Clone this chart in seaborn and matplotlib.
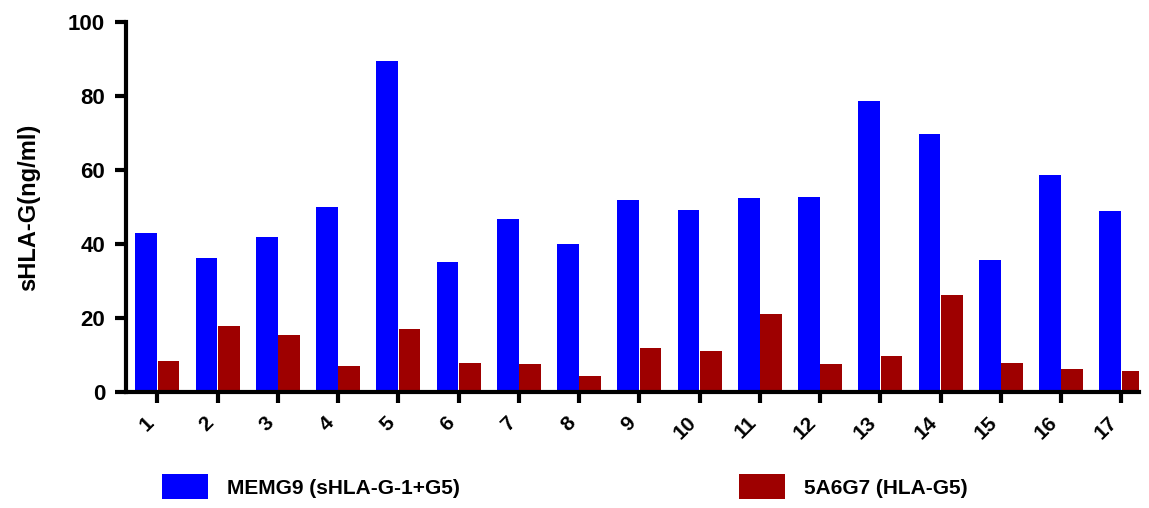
import matplotlib
matplotlib.use("Agg")
import matplotlib.pyplot as plt
import seaborn as sns
import pandas as pd

# values
samples = [str(i) for i in range(1, 18)]
memg9 = [43.0, 36.2, 41.9, 50.0, 89.5, 35.1, 46.8, 40.0, 51.9,
         49.2, 52.4, 52.7, 78.6, 69.7, 35.7, 58.6, 48.9]
a5g7 = [8.4, 17.8, 15.4, 7.0, 17.0, 7.8, 7.6, 4.3, 11.9,
        11.1, 21.1, 7.6, 9.7, 26.2, 7.8, 6.2, 5.7]
series_names = ["MEMG9 (sHLA-G-1+G5)", "5A6G7 (HLA-G5)"]
y_ticks = [0, 20, 40, 60, 80, 100]

df = pd.DataFrame({
    "sample": samples * 2,
    "value": memg9 + a5g7,
    "antibody": [series_names[0]] * len(samples) + [series_names[1]] * len(samples),
})

sns.set_style("ticks")
plt.rcParams["font.family"] = ["Liberation Sans", "DejaVu Sans"]
plt.rcParams["text.color"] = "black"
plt.rcParams["axes.labelcolor"] = "black"

fig = plt.figure(figsize=(11.49, 5.08), dpi=100)
ax = fig.add_axes([0.1097, 0.228, 0.882, 0.729])

sns.barplot(data=df, x="sample", y="value", hue="antibody",
            palette=["#0000ff", "#9e0000"], width=0.74, gap=0.03,
            saturation=1, linewidth=0, ax=ax)

ax.set_ylim(0, 100)
ax.set_xlim(-0.52, 16.3)
ax.set_yticks(y_ticks)
ax.set_yticklabels([str(t) for t in y_ticks], fontsize=16, fontweight="bold")
ax.set_xticks(range(len(samples)))
ax.set_xticklabels(samples, fontsize=15, fontweight="bold", rotation=45, ha="right")
ax.set_xlabel("")
ax.set_ylabel("sHLA-G(ng/ml)", fontsize=17, fontweight="bold", labelpad=20)

sns.despine(ax=ax)
for side in ["left", "bottom"]:
    ax.spines[side].set_linewidth(3)
    ax.spines[side].set_color("black")
ax.tick_params(axis="both", width=3, length=8, pad=7, colors="black")

sns.move_legend(ax, "lower left", bbox_to_anchor=(0.125, -0.02),
                bbox_transform=fig.transFigure, ncol=2, frameon=False,
                title=None, fontsize=15, handlelength=2.2, handleheight=1.5,
                handletextpad=0.9, columnspacing=13.4)
for t in ax.get_legend().get_texts():
    t.set_fontweight("bold")

fig.savefig("out.png", dpi=100)
